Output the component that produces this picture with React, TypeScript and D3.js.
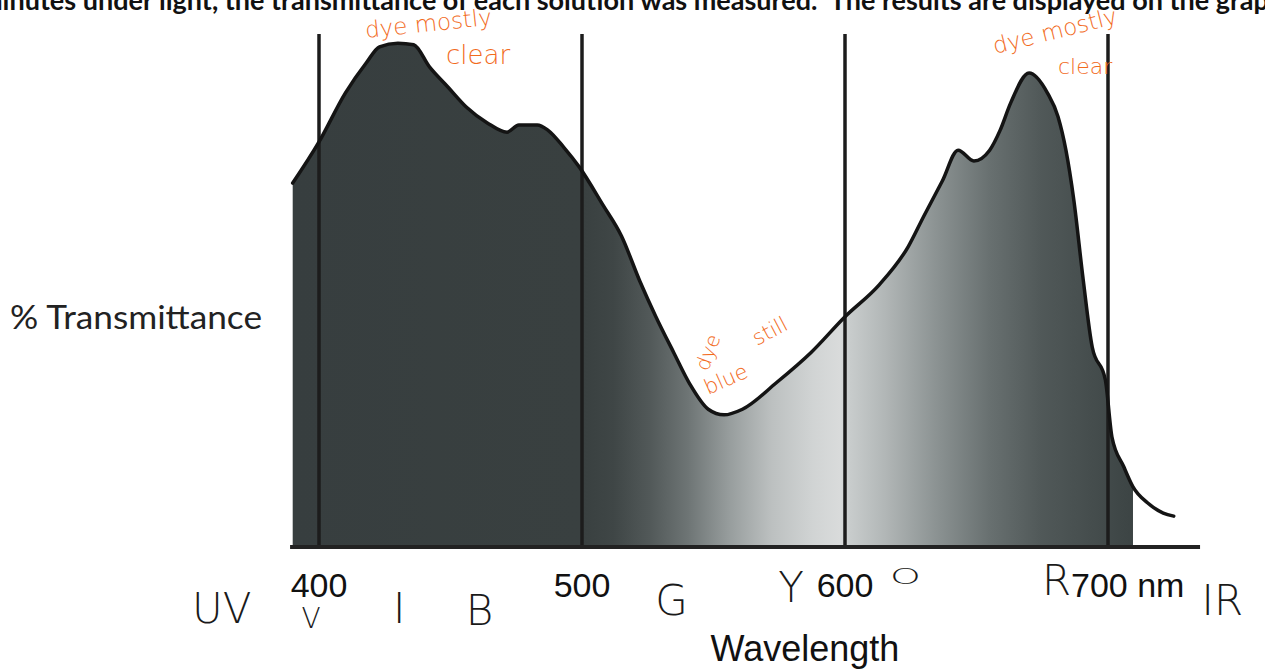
import * as d3 from 'd3';

// measured spectrum (nm, % transmittance)
const wavelengths = [
  390, 400, 410, 418, 423, 430, 436, 442, 449, 456,
  464, 471.5, 476, 483, 487, 493, 499, 508, 515, 522,
  528, 535, 541, 548, 554, 561, 574, 587, 600, 613,
  624, 630, 637, 643, 649, 655, 659, 663, 670, 677,
  681, 684, 687, 690.5, 694, 699, 701.5, 706, 709.5, 715,
  721, 725,
];
const transmittance = [
  71, 79, 88.5, 94.4, 97.5, 98.2, 97.9, 93.6, 89.7, 85.8,
  82.7, 80.9, 82.3, 82.3, 81.3, 78, 74.1, 66.7, 60.7, 51.9,
  45.1, 37.9, 31.9, 27, 25.9, 27, 32.2, 38, 45, 51.2,
  58.6, 64.6, 71.4, 77.4, 75.3, 77.4, 81.3, 86.6, 92.4, 88.5,
  83.9, 77.4, 67.7, 52.5, 39.1, 32.7, 21.6, 15.8, 11.9, 8.8,
  6.8, 6.2,
];
const fillEnd = 709.5;

const tickValues = [400, 500, 600, 700];
const tickLabels = ['400', '500', '600', '700 nm'];

// handwritten notes under the axis
const bandLetters = ['UV', 'V', 'I', 'B', 'G', 'Y', 'O', 'R', 'IR'];
const bandWavelengths = [363, 397, 430.5, 461, 534, 579.5, 623, 680.5, 743.5];

const topLine =
  'minutes under light, the transmittance of each solution was measured.  The results are displayed on the graph.';

// gray bands of the spectrum backdrop
const shadeStops: [number, string][] = [
  [390, '#373e3f'],
  [500, '#394040'],
  [512, '#3f4646'],
  [526, '#525959'],
  [540, '#6d7474'],
  [556, '#979d9d'],
  [572, '#bcc0c0'],
  [588, '#d1d4d4'],
  [598, '#d9dbdb'],
  [602, '#c8cccc'],
  [615, '#b2b7b7'],
  [635, '#8b9292'],
  [655, '#687070'],
  [675, '#505858'],
  [709.5, '#3c4444'],
];

export default function App() {
  const width = 1265;
  const height = 671;

  const x = d3.scaleLinear().domain([400, 700]).range([319, 1108]);
  const y = d3.scaleLinear().domain([0, 100]).range([548, 34]);

  const points = wavelengths.map((w, i) => ({ w, t: transmittance[i] }));
  const filled = points.filter((p) => p.w <= fillEnd);

  const area = d3
    .area<{ w: number; t: number }>()
    .x((d) => x(d.w))
    .y0(y(0))
    .y1((d) => y(d.t))
    .curve(d3.curveMonotoneX);

  const line = d3
    .line<{ w: number; t: number }>()
    .x((d) => x(d.w))
    .y((d) => y(d.t))
    .curve(d3.curveMonotoneX);

  const x0 = x(390);
  const x1 = x(fillEnd);

  const hand = "'DejaVu Sans', sans-serif";
  const ink = '#f26b1d';

  const bandY = (b: string) => (b === 'O' ? 584 : b === 'V' ? 628 : b === 'R' ? 595 : b === 'IR' ? 615 : b === 'Y' ? 602 : b === 'G' ? 615 : b === 'B' ? 625 : 623);
  const bandSize = (b: string) => (b === 'V' ? 28 : b === 'O' ? 28 : 42);

  return (
    <svg
      width={width}
      height={height}
      style={{ position: 'absolute', left: 0, top: 0, background: '#fff' }}
    >
      <defs>
        <linearGradient id="spec" gradientUnits="userSpaceOnUse" x1={x0} x2={x1} y1={0} y2={0}>
          {shadeStops.map(([w, c]) => (
            <stop key={w} offset={(x(w) - x0) / (x1 - x0)} stopColor={c} />
          ))}
        </linearGradient>
      </defs>

      <text
        x={-20}
        y={10}
        fontFamily="Lato, 'Open Sans', sans-serif"
        fontWeight={700}
        fontSize={27}
        fill="#111"
        style={{ whiteSpace: 'pre' }}
      >
        {topLine}
      </text>

      <path d={area(filled) ?? ''} fill="url(#spec)" />

      {tickValues.map((v) => (
        <line key={v} x1={x(v)} x2={x(v)} y1={y(0)} y2={y(100)} stroke="#1c1c1c" strokeWidth={3.5} />
      ))}

      <path d={line(points) ?? ''} fill="none" stroke="#141414" strokeWidth={3.5} strokeLinejoin="round" strokeLinecap="round" />

      <line x1={x(389)} x2={x(735)} y1={y(0) - 1} y2={y(0) - 1} stroke="#222" strokeWidth={4} />

      {tickValues.map((v, i) => (
        <text
          key={v}
          x={v === 700 ? x(v) - 37 : x(v)}
          y={597}
          textAnchor={v === 700 ? 'start' : 'middle'}
          fontFamily="'Liberation Sans', Arial, sans-serif"
          fontSize={34}
          fill="#111"
        >
          {tickLabels[i]}
        </text>
      ))}

      <text
        x={805}
        y={661}
        textAnchor="middle"
        fontFamily="'Liberation Sans', Arial, sans-serif"
        fontSize={36}
        fill="#111"
      >
        Wavelength
      </text>

      <text x={10} y={329} fontFamily="Lato, 'Open Sans', sans-serif" fontSize={32} fill="#222" textLength={252} lengthAdjust="spacingAndGlyphs">
        % Transmittance
      </text>

      {bandLetters.map((b, i) => {
        const bx = x(bandWavelengths[i]);
        const by = bandY(b);
        return (
          <text
            key={b}
            x={bx}
            y={by}
            textAnchor="middle"
            fontFamily={hand}
            fontWeight={200}
            fontSize={bandSize(b)}
            fill="#1a1a1a"
            transform={b === 'O' ? `translate(${bx} ${by}) scale(1.4 0.75) translate(${-bx} ${-by})` : undefined}
          >
            {b}
          </text>
        );
      })}

      <g fontFamily={hand} fontWeight={300} fill={ink}>
        <text x={366} y={38} fontSize={23} transform="rotate(-6 366 38)">dye mostly</text>
        <text x={446} y={64} fontSize={26}>clear</text>
        <text x={995} y={54} fontSize={23} transform="rotate(-14 995 54)">dye mostly</text>
        <text x={1058} y={74} fontSize={22}>clear</text>
        <text x={708} y={372} fontSize={20} transform="rotate(-70 708 372)">dye</text>
        <text x={757} y={346} fontSize={21} transform="rotate(-28 757 346)">still</text>
        <text x={708} y={395} fontSize={21} transform="rotate(-24 708 395)">blue</text>
      </g>
    </svg>
  );
}
